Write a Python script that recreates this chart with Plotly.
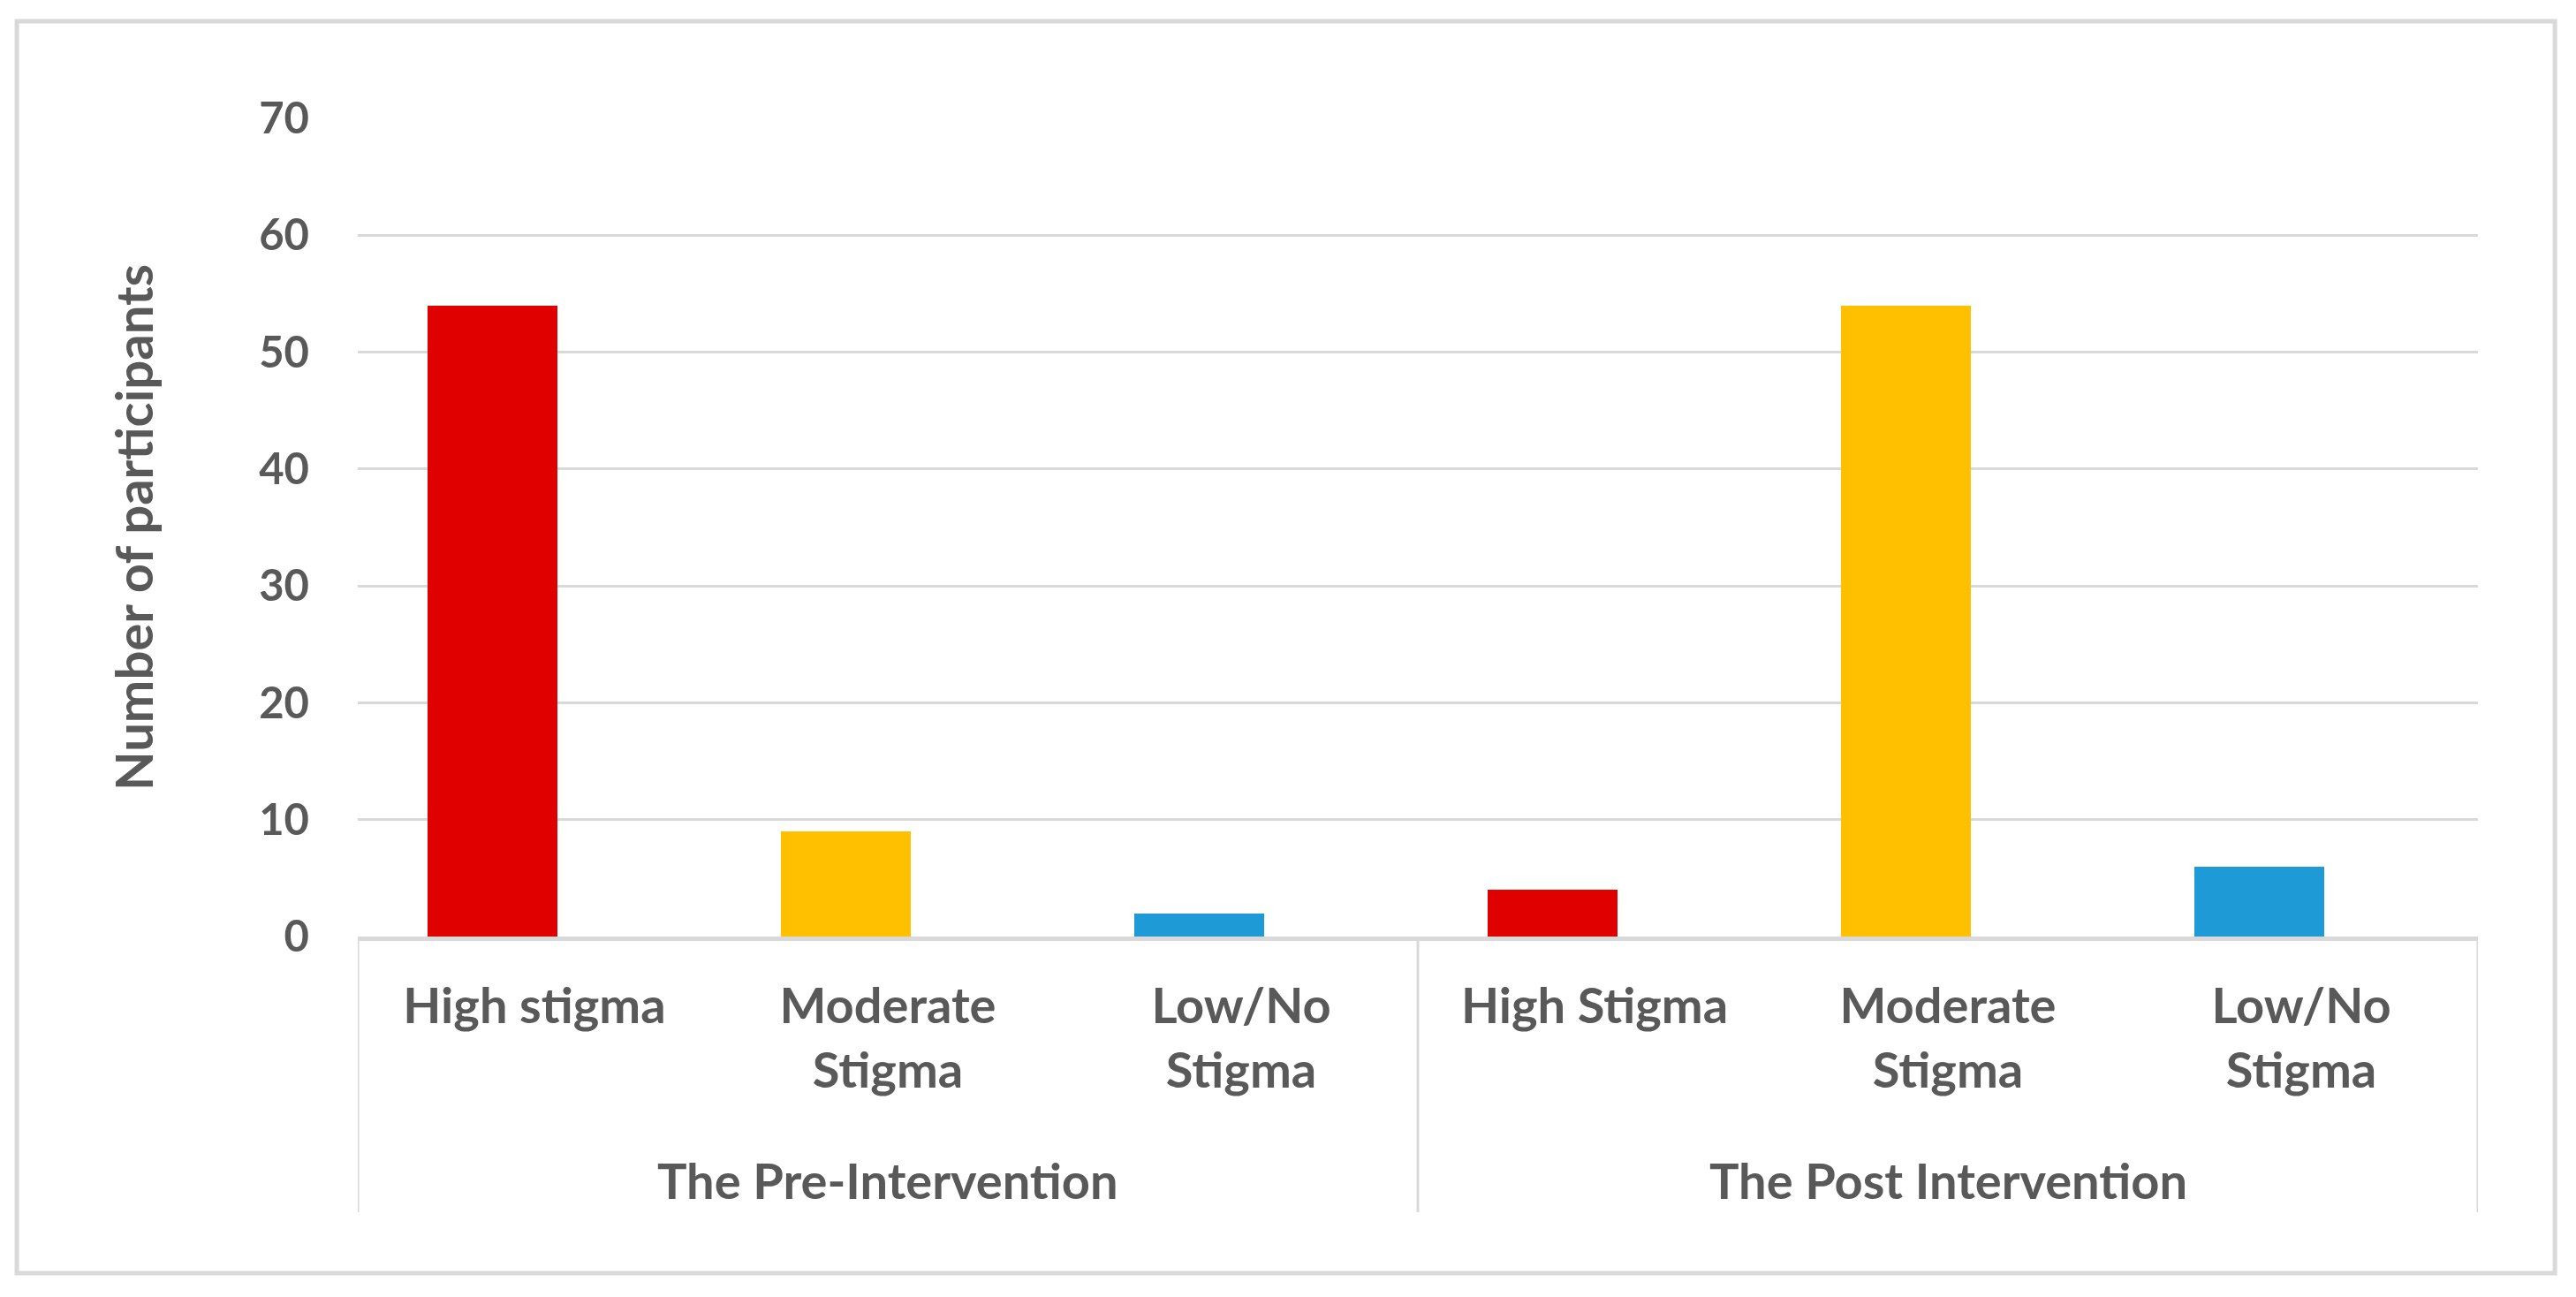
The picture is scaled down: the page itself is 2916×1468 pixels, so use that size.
import plotly.graph_objects as go

# Data
groups = ["The Pre-Intervention", "The Post Intervention"]
labels = ["High stigma", "Moderate<br>Stigma", "Low/No<br>Stigma",
          "High Stigma", "Moderate<br>Stigma", "Low/No<br>Stigma"]
values = [54, 9, 2, 4, 54, 6]
bar_colors = ["#E00000", "#FFC000", "#1E9BD7", "#E00000", "#FFC000", "#1E9BD7"]
y_ticks = [0, 10, 20, 30, 40, 50, 60, 70]

W, H = 2916, 1468
grey_text = "#595959"
line_grey = "#D9D9D9"
font_name = "Lato"

x_pos = list(range(len(labels)))

fig = go.Figure()
# bars sit a bit left of the category centre, like an Excel clustered chart
fig.add_trace(go.Bar(x=x_pos, y=values, marker_color=bar_colors,
                     marker_line_width=0, width=0.367, offset=-0.302))

# group labels, centred on their three categories
n_per = len(labels) // len(groups)
for i, g in enumerate(groups):
    centre = sum(x_pos[i * n_per:(i + 1) * n_per]) / n_per
    fig.add_annotation(x=centre, y=-0.297, xref="x", yref="paper", text=g,
                       showarrow=False, yanchor="middle",
                       font=dict(family=font_name, size=56, color=grey_text, weight="bold"))

# dividers between groups (and at both ends)
for k in range(len(groups) + 1):
    xd = k * n_per - 0.5
    fig.add_shape(type="line", x0=xd, x1=xd, y0=0, y1=-0.337, xref="x", yref="paper",
                  line=dict(color=line_grey, width=3))

# outer chart border
fig.add_shape(type="rect", xref="paper", yref="paper",
              x0=-0.1608, x1=1.0363, y0=-0.4114, y1=1.1188,
              line=dict(color=line_grey, width=5), layer="below")

fig.update_xaxes(range=[-0.5, len(labels) - 0.5], tickvals=x_pos, ticktext=labels,
                 showgrid=False, zeroline=False, showline=True, linecolor=line_grey,
                 linewidth=5, ticks="", ticklabelstandoff=26,
                 tickfont=dict(family=font_name, size=56, color=grey_text, weight="bold"))
fig.update_yaxes(range=[0, 70], tickvals=y_ticks, showgrid=True, gridcolor=line_grey,
                 gridwidth=3, zeroline=False, showline=False, ticks="",
                 ticklabelstandoff=54,
                 tickfont=dict(family=font_name, size=49, color=grey_text, weight="bold"),
                 title=dict(text="Number of participants", standoff=100,
                            font=dict(family=font_name, size=58, color=grey_text, weight="bold")))

fig.update_layout(width=W, height=H, plot_bgcolor="white", paper_bgcolor="white",
                  showlegend=False, bargap=0,
                  margin=dict(l=397, r=119, t=126, b=416))

fig.write_html("out.html")
